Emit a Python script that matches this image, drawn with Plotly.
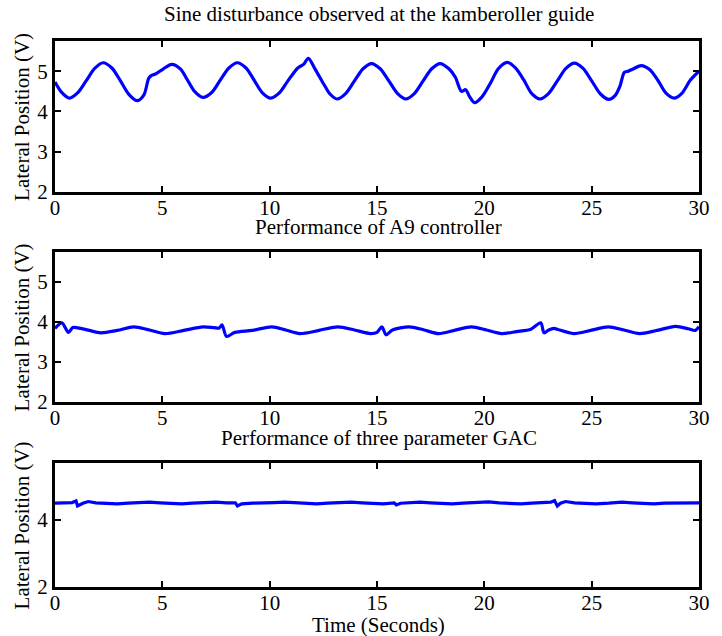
import plotly.graph_objects as go
from plotly.subplots import make_subplots

# ---------------- data ----------------
sine_t = [0, 0.3, 0.67, 1.05, 1.45, 1.85, 2.24, 2.65, 3.05, 3.45, 3.84, 4.15, 4.37, 4.52, 4.68,
          5.05, 5.44, 5.85, 6.15, 6.5, 6.89, 7.3, 7.7, 8.1, 8.49, 8.9, 9.25, 9.65, 10.05, 10.45,
          10.85, 11.31, 11.58, 11.8, 12.15, 12.53, 12.8, 13.14, 13.55, 13.95, 14.35, 14.74, 15.15,
          15.55, 15.95, 16.34, 16.75, 17.15, 17.55, 17.94, 18.35, 18.65, 18.93, 19.13, 19.31, 19.54,
          19.9, 20.3, 20.65, 21.06, 21.45, 21.85, 22.2, 22.59, 23.0, 23.4, 23.8, 24.19, 24.6, 25.0,
          25.4, 25.79, 26.1, 26.32, 26.52, 26.7, 26.95, 27.31, 27.7, 28.1, 28.45, 28.84, 29.2, 29.6, 30]
sine_v = [4.73, 4.48, 4.33, 4.46, 4.76, 5.07, 5.21, 5.08, 4.76, 4.42, 4.27, 4.42, 4.83, 4.90, 4.93,
          5.06, 5.17, 5.05, 4.80, 4.50, 4.35, 4.47, 4.78, 5.08, 5.21, 5.08, 4.80, 4.47, 4.33, 4.46,
          4.76, 5.08, 5.17, 5.32, 5.02, 4.67, 4.44, 4.31, 4.45, 4.76, 5.06, 5.19, 5.06,
          4.76, 4.45, 4.31, 4.45, 4.76, 5.06, 5.19, 5.06, 4.85, 4.50, 4.54, 4.37, 4.22,
          4.37, 4.72, 5.06, 5.22, 5.08, 4.77, 4.45, 4.31, 4.45, 4.76, 5.07, 5.20, 5.07, 4.76,
          4.44, 4.30, 4.40, 4.63, 4.97, 5.00, 5.06, 5.14, 5.04, 4.76, 4.46, 4.33, 4.45, 4.78, 5.00]

a9_t = [0, 0.32, 0.63, 0.83, 1.2, 1.6, 2.13, 2.9, 3.67, 4.4, 5.12, 6.0, 6.89, 7.4, 7.65, 7.78,
        7.99, 8.38, 9.2, 10.1, 10.75, 11.4, 12.3, 13.18, 13.95, 14.7, 15.0, 15.23, 15.42, 15.72,
        16.5, 17.2, 17.87, 18.6, 19.4, 20.1, 20.8, 21.5, 22.17, 22.63, 22.78, 23.0, 23.24, 23.39,
        24.16, 24.95, 25.77, 26.5, 27.23, 28.05, 28.9, 29.5, 29.83, 30]
a9_v = [3.84, 3.98, 3.74, 3.86, 3.84, 3.79, 3.73, 3.79, 3.88, 3.80, 3.71, 3.79, 3.88, 3.86, 3.85, 3.93,
        3.64, 3.74, 3.79, 3.88, 3.80, 3.71, 3.79, 3.88, 3.80, 3.71, 3.74, 3.88, 3.68, 3.80,
        3.88, 3.80, 3.71, 3.79, 3.88, 3.80, 3.71, 3.76, 3.82, 3.98, 3.73, 3.80, 3.84, 3.82,
        3.71, 3.79, 3.88, 3.80, 3.71, 3.79, 3.89, 3.83, 3.79, 3.88]

gac_t = [0, 0.4, 0.8, 0.98, 1.05, 1.3, 1.55, 1.9, 2.4, 2.9, 3.4, 3.9, 4.4, 4.9, 5.4, 5.9, 6.4, 6.9,
         7.5, 8.0, 8.4, 8.5, 8.7, 9.2, 9.7, 10.2, 10.7, 11.2, 11.7, 12.2, 12.7, 13.3, 13.8, 14.3,
         14.8, 15.3, 15.8, 15.9, 16.1, 16.6, 17.0, 17.5, 18.0, 18.5, 19.0, 19.6, 20.2, 20.7, 21.2,
         21.7, 22.2, 22.7, 23.1, 23.27, 23.4, 23.55, 23.78, 24.2, 24.7, 25.2, 25.8, 26.4, 26.9,
         27.4, 27.9, 28.4, 29.0, 29.5, 30]
gac_v = [4.50, 4.51, 4.52, 4.57, 4.42, 4.50, 4.55, 4.51, 4.50, 4.48, 4.50, 4.51, 4.53, 4.51, 4.50, 4.48, 4.50, 4.51,
         4.53, 4.51, 4.51, 4.42, 4.48, 4.50, 4.50, 4.52, 4.53, 4.51, 4.49, 4.48, 4.50, 4.51, 4.53, 4.51,
         4.50, 4.48, 4.51, 4.45, 4.50, 4.51, 4.53, 4.51, 4.50, 4.48, 4.50, 4.51, 4.54, 4.51, 4.50,
         4.48, 4.50, 4.51, 4.53, 4.58, 4.42, 4.50, 4.55, 4.51, 4.50, 4.48, 4.50, 4.53, 4.51,
         4.50, 4.48, 4.50, 4.51, 4.52, 4.51]

x_ticks = [0, 5, 10, 15, 20, 25, 30]
y_ticks_top = [2, 3, 4, 5]
y_ticks_bottom = [2, 4]

titles = ["Sine disturbance observed at the kamberoller guide",
          "Performance of A9 controller",
          "Performance of three parameter GAC"]
y_title = "Lateral Position (V)"
x_title = "Time (Seconds)"

# ---------------- figure ----------------
W, H = 722, 636
L, R, T, B = 55, 15, 41, 49
plot_h = H - T - B

def py(p):  # pixel y -> paper y
    return (H - B - p) / plot_h

def px(p):
    return (p - L) / (W - L - R)

FONT = "Liberation Serif"
FS = 21
fig = make_subplots(rows=3, cols=1)

series = [(sine_t, sine_v), (a9_t, a9_v), (gac_t, gac_v)]
shapes = ["spline", "spline", "linear"]
for i, ((t, v), sh) in enumerate(zip(series, shapes)):
    fig.add_trace(go.Scatter(x=t, y=v, mode="lines",
                             line=dict(color="#0000ff", width=3.2, shape=sh, smoothing=0.8 if sh == "spline" else None),
                             showlegend=False), row=i + 1, col=1)

domains = [(py(192), py(41)), (py(402), py(252)), (py(587), py(463))]
ranges = [(2, 5.75), (2, 5.75), (2, 5.7)]
yticks = [y_ticks_top, y_ticks_top, y_ticks_bottom]

axis_common = dict(showline=True, linewidth=3, linecolor="black", mirror="allticks",
                   ticks="inside", ticklen=6, tickwidth=2, tickcolor="black",
                   showgrid=False, zeroline=False,
                   tickfont=dict(family=FONT, size=FS, color="black"))

for i in range(3):
    xa = "xaxis" if i == 0 else f"xaxis{i+1}"
    ya = "yaxis" if i == 0 else f"yaxis{i+1}"
    fig.layout[xa].update(range=[0, 30], tickvals=x_ticks, domain=[0, 1], ticklabelstandoff=-5, **axis_common)
    fig.layout[ya].update(range=list(ranges[i]), tickvals=yticks[i], domain=list(domains[i]),
                          ticklabelstandoff=0, **axis_common)

annots = []
title_y = [14, 227, 438]
for txt, yy in zip(titles, title_y):
    annots.append(dict(text=txt, x=px(383), y=py(yy), xref="paper", yref="paper",
                       xanchor="center", yanchor="middle", showarrow=False,
                       font=dict(family=FONT, size=FS, color="black")))
for (d0, d1) in domains:
    annots.append(dict(text=y_title, x=px(22), y=(d0 + d1) / 2, xref="paper", yref="paper",
                       xanchor="center", yanchor="middle", showarrow=False, textangle=-90,
                       font=dict(family=FONT, size=FS, color="black")))
annots.append(dict(text=x_title, x=px(383), y=py(625), xref="paper", yref="paper",
                   xanchor="center", yanchor="middle", showarrow=False,
                   font=dict(family=FONT, size=FS, color="black")))

fig.update_layout(width=W, height=H, margin=dict(l=L, r=R, t=T, b=B),
                  plot_bgcolor="white", paper_bgcolor="white",
                  annotations=annots)

fig.write_html("out.html")
